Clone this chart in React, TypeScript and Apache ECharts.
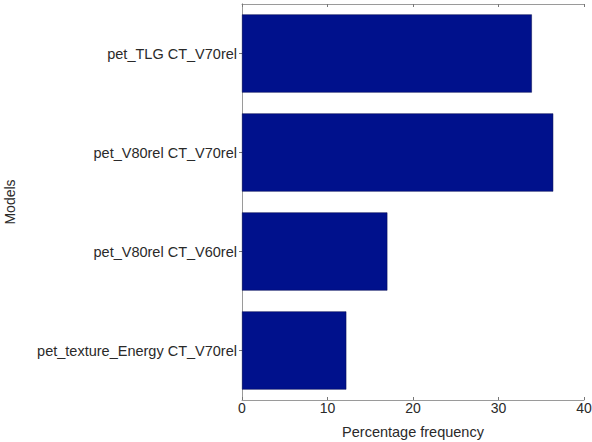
import React, { useEffect, useRef } from "react";
import * as echarts from "echarts";

const categories = [
  "pet_TLG CT_V70rel",
  "pet_V80rel CT_V70rel",
  "pet_V80rel CT_V60rel",
  "pet_texture_Energy CT_V70rel",
];
const values = [33.9, 36.4, 17.0, 12.2];
const xTicks = { min: 0, max: 40, interval: 10 };

export default function App() {
  const ref = useRef<HTMLDivElement>(null);
  useEffect(() => {
    const chart = echarts.init(ref.current!, null, { renderer: "svg" });
    const font = "Liberation Sans, Arial, Helvetica, sans-serif";
    const axisLine = { show: true, lineStyle: { color: "#9a9a9a", width: 1 } };
    chart.setOption({
      animation: false,
      backgroundColor: "#ffffff",
      grid: {
        left: 242,
        right: 8,
        top: 4,
        bottom: 42,
        containLabel: false,
        outerBoundsMode: "none",
      },
      xAxis: [
        {
          type: "value",
          position: "bottom",
          min: xTicks.min,
          max: xTicks.max,
          interval: xTicks.interval,
          name: "Percentage frequency",
          nameLocation: "middle",
          nameGap: 24,
          nameTextStyle: { fontFamily: font, fontSize: 14.5, color: "#2a2a2a" },
          axisLine,
          axisTick: { show: true, inside: true, length: 3, lineStyle: { color: "#777" } },
          axisLabel: { fontFamily: font, fontSize: 14, color: "#2a2a2a", margin: 1 },
          splitLine: { show: false },
        },
        {
          type: "value",
          position: "top",
          min: xTicks.min,
          max: xTicks.max,
          interval: xTicks.interval,
          axisLine,
          axisTick: { show: true, inside: true, length: 3, lineStyle: { color: "#777" } },
          axisLabel: { show: false },
          splitLine: { show: false },
        },
      ],
      yAxis: [
        {
          type: "category",
          position: "left",
          inverse: true,
          data: categories,
          name: "Models",
          nameLocation: "middle",
          nameGap: 225,
          nameRotate: 90,
          nameTextStyle: { fontFamily: font, fontSize: 14, color: "#2a2a2a" },
          axisLine,
          axisTick: { show: true, inside: true, alignWithLabel: true, length: 3, lineStyle: { color: "#777" } },
          axisLabel: { fontFamily: font, fontSize: 14.5, color: "#2a2a2a", margin: 5 },
        },
        {
          type: "category",
          position: "right",
          inverse: true,
          data: categories,
          axisLine,
          axisTick: { show: true, inside: true, alignWithLabel: true, length: 3, lineStyle: { color: "#777" } },
          axisLabel: { show: false },
        },
      ],
      series: [
        {
          type: "bar",
          xAxisIndex: 0,
          yAxisIndex: 0,
          data: values,
          barWidth: "79%",
          itemStyle: { color: "#00118c", borderColor: "#00094f", borderWidth: 0.5 },
        },
      ],
    });
    return () => chart.dispose();
  }, []);
  return (
    <div
      ref={ref}
      style={{ position: "fixed", left: 0, top: 0, width: 592, height: 442, background: "#fff" }}
    />
  );
}
